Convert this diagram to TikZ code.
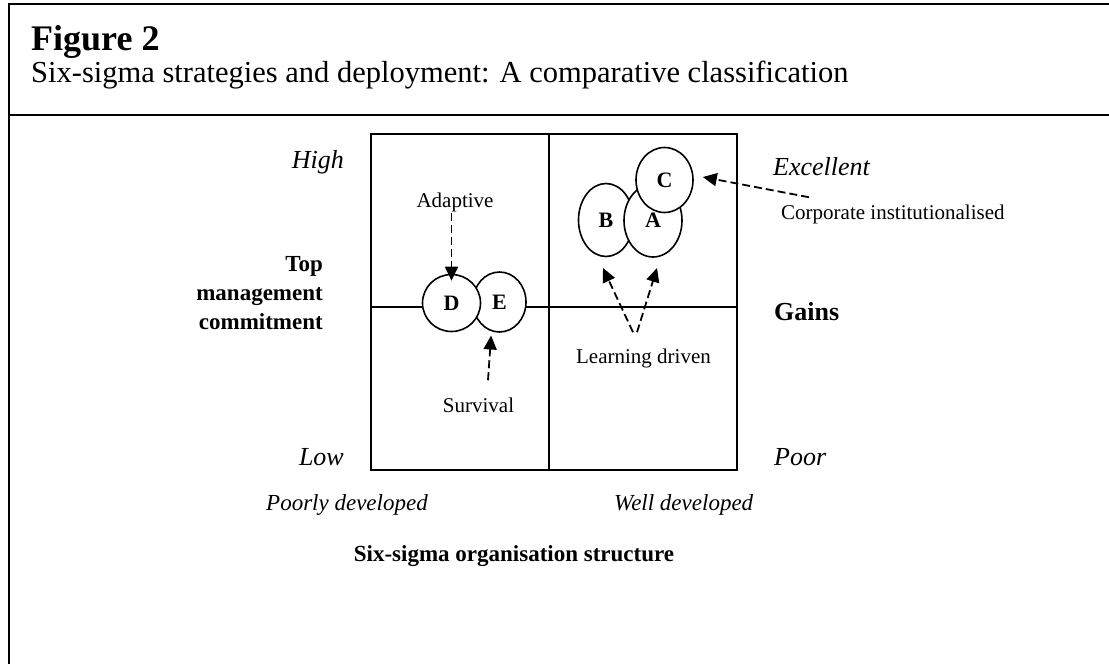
\documentclass[tikz,border=0pt]{standalone}
\usepackage{fontspec}
\setmainfont{Liberation Serif}
\usetikzlibrary{
    arrows.meta,
    shapes.geometric,
    positioning
}
\tikzset{
    bubble/.style={ellipse, draw, fill=white, line width=1.6pt, inner sep=0pt,
        font=\fontsize{22}{26}\selectfont\bfseries},
    tag/.style={inner sep=1pt, font=\fontsize{21}{25}\selectfont},
    endlabel/.style={inner sep=1pt, font=\fontsize{26}{31}\selectfont\itshape},
    devlabel/.style={inner sep=1pt, font=\fontsize{23}{28}\selectfont\itshape},
    heading/.style={inner sep=1pt, align=center, font=\fontsize{23}{29}\selectfont\bfseries},
    dasharrow/.style={line width=1.8pt, dash pattern=on 8pt off 4pt,
        -{Triangle[length=14pt, width=13pt]}}
}

\begin{document}
\begin{tikzpicture}[x=1pt, y=-1pt]
                        \useasboundingbox (0, 0) rectangle (1109, 664);

                        \draw[line width=2pt] (9, 664) -- (9, 4) -- (1109, 4);
                        \draw[line width=2pt] (9, 115) -- (1109, 115);
                        \node[anchor=base west, inner sep=0pt, font=\fontsize{36}{43}\selectfont\bfseries] (fig) at (31, 50) {Figure 2};
                        \node[anchor=base west, inner sep=0pt, font=\fontsize{30.5}{36}\selectfont] (caption) at (31, 82) {Six-sigma strategies and deployment: A comparative classification};

                        \draw[line width=1.6pt] (371, 134) rectangle (737, 470);
                        \draw[line width=1.6pt] (549, 134) -- (549, 470);
                        \draw[line width=1.6pt] (371, 307) -- (737, 307);

                        \node[bubble, minimum width=53pt, minimum height=60pt] (E) at (499.5, 302) {E};
                        \node[bubble, minimum width=58pt, minimum height=57pt] (D) at (451.5, 303) {D};
                        \node[bubble, minimum width=55pt, minimum height=73pt] (B) at (606, 220) {B};
                        \node[bubble, minimum width=58pt, minimum height=73pt] (A) at (653, 220.5) {A};
                        \node[bubble, minimum width=57pt, minimum height=65pt] (C) at (664.5, 180) {C};

                        \node[tag, anchor=base] (adapt) at (455, 207) {Adaptive};
                        \node[tag, anchor=base] (surv) at (478.5, 412) {Survival};
                        \node[tag, anchor=base] (learn) at (643.5, 363) {Learning driven};
                        \node[tag, anchor=base west] (corp) at (780, 219) {Corporate institutionalised};
                        \coordinate (tipB) at (603, 268);
                        \coordinate (tipA) at (657, 268);

                        \draw[dasharrow] (adapt.south -| D) -- ([yshift=-7pt]D.north);
                        \draw[dasharrow] ([shift={(9.5pt,16pt)}]surv.north) -- ([shift={(-0.5pt,-4pt)}]E.255);
                        \draw[dasharrow] ([shift={(-10.5pt,15pt)}]learn.north) -- (tipB);
                        \draw[dasharrow] ([shift={(-6.5pt,15pt)}]learn.north) -- (tipA);
                        \draw[dasharrow] ([shift={(29pt,6pt)}]corp.north west) -- ([shift={(9pt,3pt)}]C.east);

                        \node[endlabel, anchor=base east] (high) at (345, 168) {High};
                        \node[endlabel, anchor=base east] (low) at (345, 465) {Low};
                        \node[endlabel, anchor=base west] (excellent) at (772, 175) {Excellent};
                        \node[endlabel, anchor=base west] (poor) at (773, 465) {Poor};
                        \node[heading, align=right, anchor=east] (commit) at (324, 293) {Top\\management\\commitment};
                        \node[heading, anchor=base west, font=\fontsize{26}{31}\selectfont\bfseries] (gains) at (773, 320) {Gains};
                        \node[devlabel, anchor=base west] (poorly) at (265, 510) {Poorly developed};
                        \node[devlabel, anchor=base west] (well) at (613, 510) {Well developed};
                        \node[heading, anchor=base] (structure) at (514, 561) {Six-sigma organisation structure};
                    \end{tikzpicture}
\end{document}
